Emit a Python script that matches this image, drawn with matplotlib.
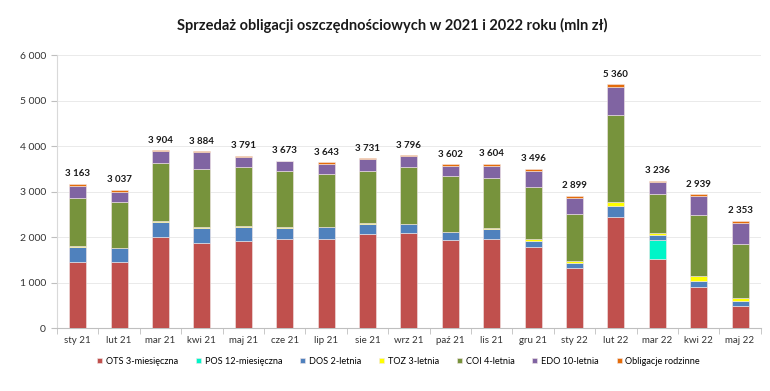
import numpy as np
import matplotlib
matplotlib.use("Agg")
import matplotlib.pyplot as plt
from matplotlib.ticker import FuncFormatter, FixedLocator

plt.rcParams['font.family'] = ['Lato', 'DejaVu Sans']

# data (mln zł)
months = ['sty 21', 'lut 21', 'mar 21', 'kwi 21', 'maj 21', 'cze 21', 'lip 21', 'sie 21',
          'wrz 21', 'paź 21', 'lis 21', 'gru 21', 'sty 22', 'lut 22', 'mar 22', 'kwi 22', 'maj 22']
ots = [1457, 1457, 2000, 1862, 1912, 1956, 1956, 2066, 2081, 1941, 1949, 1780, 1310, 2440, 1516, 901, 490]
pos = [0, 0, 0, 0, 0, 0, 0, 0, 0, 0, 0, 0, 0, 0, 425, 0, 0]
dos = [330, 300, 330, 343, 308, 250, 257, 213, 198, 169, 227, 132, 116, 241, 96, 132, 103]
toz = [20, 12, 20, 15, 30, 15, 8, 20, 10, 8, 25, 44, 44, 88, 51, 110, 73]
coi = [1057, 1011, 1270, 1268, 1288, 1229, 1164, 1145, 1243, 1229, 1102, 1149, 1035, 1912, 857, 1341, 1187]
edo = [263, 220, 270, 380, 230, 215, 226, 270, 240, 220, 264, 345, 359, 622, 264, 417, 455]
rodz = [36, 37, 14, 16, 23, 8, 32, 17, 24, 35, 37, 46, 35, 57, 27, 38, 45]

series = [
    ('OTS 3-miesięczna', ots, '#C0504D'),
    ('POS 12-miesięczna', pos, '#00F5C8'),
    ('DOS 2-letnia', dos, '#4F81BD'),
    ('TOZ 3-letnia', toz, '#FFFF00'),
    ('COI 4-letnia', coi, '#77933C'),
    ('EDO 10-letnia', edo, '#8064A2'),
    ('Obligacje rodzinne', rodz, '#E46C0A'),
]

fig = plt.figure(figsize=(7.7, 3.91), dpi=100)
ax = fig.add_axes([0.074, 0.161, 0.914, 0.698])

x = np.arange(len(months))
bottom = np.zeros(len(months))
for name, vals, col in series:
    vals = np.array(vals, dtype=float)
    ax.bar(x, vals, 0.41, bottom=bottom, color=col, label=name,
           edgecolor='#F2E6E6', linewidth=0.4, zorder=3)
    bottom += vals

for xi, tot in zip(x, bottom):
    ax.text(xi, tot + 125, f'{int(round(tot)):,}'.replace(',', ' '),
            ha='center', va='bottom', fontsize=7, fontweight='bold', color='#1A1A1A')

ax.set_xlim(-0.5, len(months) - 0.5)
ax.set_ylim(0, 6000)
ax.set_yticks(range(0, 6001, 1000))
ax.yaxis.set_major_formatter(FuncFormatter(lambda v, p: f'{int(v):,}'.replace(',', ' ')))
ax.grid(axis='y', color='#E6E6E6', linewidth=0.6, zorder=0)

ax.set_xticks(x)
ax.set_xticklabels(months)
ax.xaxis.set_minor_locator(FixedLocator(np.arange(-0.5, len(months), 1)))
ax.tick_params(axis='x', which='major', length=0, labelsize=7, pad=6, colors='#333333')
ax.tick_params(axis='x', which='minor', length=4, color='#BFBFBF')
ax.tick_params(axis='y', length=4, color='#BFBFBF', labelsize=7.5, labelcolor='#333333', pad=4)

for s in ['top', 'right']:
    ax.spines[s].set_visible(False)
ax.spines['left'].set_color('#D9D9D9')
ax.spines['bottom'].set_color('#BFBFBF')

# title: fit to the span it has in the original (~177..609 px)
title = fig.text(177 / 770, 0.935, 'Sprzedaż obligacji oszczędnościowych w 2021 i 2022 roku (mln zł)',
                 ha='left', va='center', fontsize=11, fontweight='bold', color='#1A1A1A')
fig.canvas.draw()
w = title.get_window_extent().width
title.set_fontsize(11 * 432 / w)

fig.legend(loc='center', bbox_to_anchor=(97 / 770, 0.056, (700 - 97) / 770, 0.04),
           mode='expand', ncol=7, frameon=False, borderpad=0, borderaxespad=0,
           fontsize=6.6, handlelength=0.55, handleheight=0.55, handletextpad=0.4)

fig.savefig('out.png', dpi=100)
